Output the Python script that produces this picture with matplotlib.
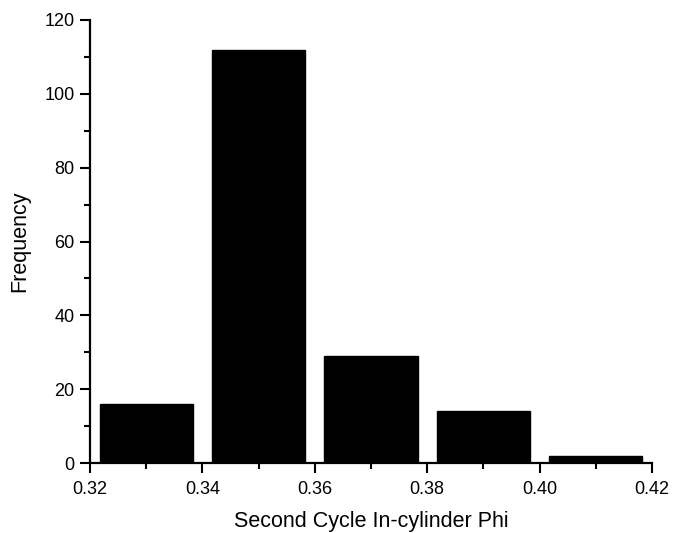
import numpy as np
import matplotlib.pyplot as plt
from matplotlib.ticker import MultipleLocator

plt.rcParams['font.family'] = ['Liberation Sans', 'DejaVu Sans']

# Histogram bins (centers) and counts
bin_centers = [0.33, 0.35, 0.37, 0.39, 0.41]
counts = [16, 112, 29, 14, 2]
bar_width = 0.0166

fig = plt.figure(figsize=(6.73, 5.33), dpi=100)
ax = fig.add_axes([0.1337, 0.1313, 0.8351, 0.8312])

ax.bar(bin_centers, counts, width=bar_width, color='black', edgecolor='black')

ax.set_xlim(0.32, 0.42)
ax.set_ylim(0, 120)
ax.xaxis.set_major_locator(MultipleLocator(0.02))
ax.xaxis.set_minor_locator(MultipleLocator(0.01))
ax.yaxis.set_major_locator(MultipleLocator(20))
ax.yaxis.set_minor_locator(MultipleLocator(10))
ax.xaxis.set_major_formatter(plt.FuncFormatter(lambda v, p: f"{v:.2f}"))

for side in ['top', 'right']:
    ax.spines[side].set_visible(False)
for side in ['left', 'bottom']:
    ax.spines[side].set_linewidth(1.6)

ax.tick_params(which='major', direction='out', length=7, width=1.5, labelsize=13)
ax.tick_params(which='minor', direction='out', length=4, width=1.5)
ax.tick_params(axis='x', which='major', pad=6)
ax.tick_params(axis='y', which='major', pad=4)

ax.set_xlabel('Second Cycle In-cylinder Phi', fontsize=15.5, labelpad=9)
ax.set_ylabel('Frequency', fontsize=15.5, labelpad=10)

fig.savefig('out.png', dpi=100)
